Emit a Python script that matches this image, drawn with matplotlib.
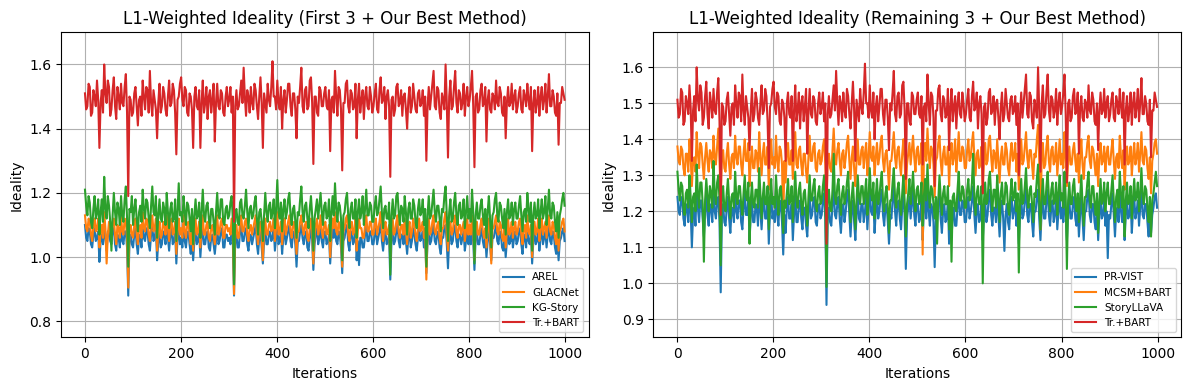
import numpy as np
import matplotlib
matplotlib.use("Agg")
from matplotlib import pyplot as plt

# Values, 400 samples across iterations 0..999
tr_bart = [
    1.51, 1.46, 1.47, 1.54, 1.53, 1.44, 1.45, 1.52, 1.50, 1.47, 1.55, 1.49, 1.34, 1.48, 1.52, 1.45, 1.60, 1.51, 1.48, 1.55,
    1.53, 1.44, 1.46, 1.52, 1.56, 1.47, 1.43, 1.53, 1.50, 1.46, 1.54, 1.48, 1.47, 1.53, 1.57, 1.45, 1.19, 1.50, 1.49, 1.44,
    1.45, 1.51, 1.53, 1.47, 1.41, 1.49, 1.50, 1.44, 1.55, 1.50, 1.46, 1.53, 1.52, 1.45, 1.58, 1.48, 1.44, 1.52, 1.49, 1.46,
    1.37, 1.48, 1.54, 1.45, 1.47, 1.53, 1.51, 1.46, 1.44, 1.50, 1.55, 1.47, 1.48, 1.54, 1.52, 1.45, 1.32, 1.49, 1.50, 1.54,
    1.56, 1.49, 1.47, 1.53, 1.52, 1.45, 1.44, 1.51, 1.50, 1.46, 1.34, 1.50, 1.53, 1.47, 1.46, 1.52, 1.34, 1.48, 1.55, 1.45,
    1.48, 1.53, 1.43, 1.50, 1.52, 1.45, 1.49, 1.54, 1.36, 1.48, 1.54, 1.47, 1.46, 1.52, 1.51, 1.45, 1.44, 1.50, 1.53, 1.47,
    1.49, 1.53, 1.45, 1.50, 1.11, 1.47, 1.52, 1.46, 1.47, 1.51, 1.55, 1.48, 1.59, 1.50, 1.44, 1.52, 1.50, 1.45, 1.53, 1.48,
    1.46, 1.54, 1.52, 1.47, 1.43, 1.50, 1.56, 1.48, 1.34, 1.51, 1.48, 1.45, 1.54, 1.49, 1.47, 1.53, 1.61, 1.50, 1.50, 1.46,
    1.55, 1.48, 1.46, 1.53, 1.40, 1.49, 1.52, 1.45, 1.49, 1.54, 1.54, 1.47, 1.44, 1.51, 1.51, 1.46, 1.37, 1.50, 1.48, 1.53,
    1.59, 1.47, 1.45, 1.52, 1.53, 1.46, 1.47, 1.55, 1.56, 1.48, 1.29, 1.50, 1.50, 1.45, 1.44, 1.53, 1.52, 1.47, 1.47, 1.51,
    1.53, 1.47, 1.46, 1.52, 1.33, 1.49, 1.50, 1.45, 1.58, 1.50, 1.44, 1.53, 1.52, 1.46, 1.27, 1.48, 1.48, 1.54, 1.55, 1.47,
    1.45, 1.52, 1.51, 1.46, 1.47, 1.54, 1.37, 1.49, 1.54, 1.45, 1.49, 1.52, 1.43, 1.50, 1.53, 1.47, 1.46, 1.53, 1.50, 1.45,
    1.47, 1.51, 1.54, 1.46, 1.45, 1.52, 1.56, 1.48, 1.49, 1.53, 1.43, 1.50, 1.52, 1.47, 1.25, 1.49, 1.50, 1.44, 1.46, 1.53,
    1.54, 1.47, 1.48, 1.52, 1.44, 1.50, 1.51, 1.46, 1.40, 1.49, 1.53, 1.45, 1.47, 1.54, 1.50, 1.46, 1.45, 1.51, 1.52, 1.47,
    1.48, 1.52, 1.44, 1.50, 1.30, 1.47, 1.53, 1.46, 1.50, 1.54, 1.58, 1.47, 1.46, 1.53, 1.52, 1.45, 1.43, 1.51, 1.49, 1.46,
    1.60, 1.48, 1.31, 1.50, 1.55, 1.46, 1.47, 1.53, 1.58, 1.48, 1.45, 1.52, 1.51, 1.46, 1.48, 1.54, 1.44, 1.50, 1.53, 1.47,
    1.49, 1.53, 1.58, 1.47, 1.28, 1.50, 1.51, 1.45, 1.46, 1.52, 1.54, 1.47, 1.48, 1.53, 1.36, 1.49, 1.52, 1.46, 1.45, 1.51,
    1.50, 1.46, 1.55, 1.48, 1.47, 1.53, 1.51, 1.45, 1.44, 1.50, 1.37, 1.48, 1.53, 1.47, 1.48, 1.54, 1.46, 1.50, 1.52, 1.45,
    1.47, 1.51, 1.53, 1.46, 1.45, 1.52, 1.50, 1.47, 1.54, 1.49, 1.46, 1.53, 1.33, 1.48, 1.52, 1.45, 1.48, 1.53, 1.44, 1.50,
    1.53, 1.46, 1.49, 1.54, 1.45, 1.50, 1.57, 1.47, 1.47, 1.52, 1.50, 1.45, 1.44, 1.51, 1.35, 1.48, 1.48, 1.53, 1.51, 1.49,
]

arel = [
    1.10, 1.06, 1.05, 1.09, 1.08, 1.04, 1.03, 1.07, 1.09, 1.05, 1.06, 1.08, 0.985, 1.05, 1.07, 1.04, 1.10, 1.06, 1.02, 1.08,
    1.08, 1.05, 1.04, 1.09, 1.09, 1.04, 1.02, 1.07, 1.06, 1.03, 1.10, 1.05, 1.04, 1.08, 1.08, 1.03, 0.88, 1.05, 1.07, 1.04,
    1.03, 1.07, 1.09, 1.04, 1.01, 1.06, 1.07, 1.03, 1.10, 1.06, 1.05, 1.09, 1.08, 1.04, 1.02, 1.07, 1.10, 1.05, 1.06, 1.09,
    0.99, 1.05, 1.08, 1.03, 1.04, 1.08, 1.07, 1.04, 1.10, 1.06, 1.02, 1.07, 1.09, 1.04, 1.05, 1.08, 0.98, 1.06, 1.09, 1.04,
    1.06, 1.03, 1.10, 1.05, 1.03, 1.07, 1.08, 1.04, 1.01, 1.06, 0.99, 1.05, 1.09, 1.04, 1.05, 1.08, 1.00, 1.06, 1.10, 1.04,
    1.04, 1.07, 1.08, 1.03, 1.02, 1.06, 1.07, 1.04, 1.01, 1.05, 1.10, 1.04, 1.05, 1.08, 1.09, 1.03, 1.03, 1.07, 1.07, 1.05,
    1.06, 1.04, 1.09, 1.05, 0.88, 1.06, 1.07, 1.03, 1.03, 1.08, 1.10, 1.05, 1.05, 1.08, 1.09, 1.04, 1.02, 1.06, 1.07, 1.04,
    1.06, 1.08, 1.10, 1.04, 1.01, 1.06, 1.08, 1.03, 0.98, 1.05, 1.09, 1.04, 1.04, 1.07, 1.08, 1.05, 1.06, 1.09, 1.02, 1.06,
    1.10, 1.04, 1.05, 1.08, 1.01, 1.06, 1.09, 1.04, 1.06, 1.08, 1.10, 1.05, 1.03, 1.07, 1.08, 1.04, 0.97, 1.05, 1.05, 1.08,
    1.10, 1.06, 1.04, 1.07, 1.08, 1.03, 1.02, 1.06, 1.09, 1.05, 0.96, 1.04, 1.07, 1.09, 1.04, 1.06, 1.10, 1.05, 1.03, 1.07,
    1.08, 1.04, 1.05, 1.07, 0.98, 1.05, 1.09, 1.06, 1.11, 1.05, 1.04, 1.08, 1.07, 1.03, 0.95, 1.05, 1.06, 1.09, 1.10, 1.04,
    1.02, 1.07, 1.08, 1.04, 1.05, 1.09, 0.99, 1.05, 0.975, 1.06, 1.06, 1.03, 1.03, 1.07, 1.10, 1.05, 1.05, 1.08, 1.08, 1.04,
    1.04, 1.07, 1.09, 1.04, 1.06, 1.08, 1.11, 1.05, 1.02, 1.06, 1.08, 1.04, 1.05, 1.07, 0.93, 1.05, 1.09, 1.04, 1.05, 1.08,
    1.10, 1.05, 1.03, 1.07, 1.07, 1.04, 1.09, 1.05, 1.01, 1.06, 1.08, 1.03, 1.05, 1.09, 1.07, 1.04, 1.02, 1.06, 1.09, 1.05,
    1.06, 1.08, 1.03, 1.06, 0.95, 1.05, 1.09, 1.04, 1.05, 1.08, 1.10, 1.05, 1.04, 1.07, 1.08, 1.03, 1.01, 1.06, 1.06, 1.09,
    1.10, 1.04, 0.965, 1.06, 1.08, 1.04, 1.05, 1.09, 1.10, 1.05, 1.03, 1.07, 1.07, 1.04, 1.06, 1.08, 1.02, 1.05, 1.09, 1.04,
    1.07, 1.04, 1.10, 1.05, 0.96, 1.06, 1.08, 1.04, 1.04, 1.07, 1.09, 1.05, 1.03, 1.06, 1.00, 1.05, 1.09, 1.04, 0.99, 1.06,
    1.06, 1.08, 1.10, 1.05, 1.04, 1.08, 1.07, 1.03, 1.02, 1.06, 1.00, 1.05, 1.09, 1.04, 1.05, 1.08, 1.03, 1.06, 1.08, 1.04,
    1.05, 1.08, 1.09, 1.04, 1.01, 1.06, 1.07, 1.03, 1.10, 1.05, 1.04, 1.07, 0.98, 1.05, 1.08, 1.04, 1.05, 1.09, 1.02, 1.06,
    1.09, 1.04, 1.06, 1.08, 1.03, 1.07, 1.10, 1.05, 1.04, 1.08, 1.07, 1.03, 1.01, 1.06, 0.99, 1.05, 1.06, 1.08, 1.09, 1.05,
]

glacnet = [
    1.13, 1.09, 1.08, 1.12, 1.11, 1.07, 1.05, 1.10, 1.12, 1.08, 1.09, 1.12, 1.03, 1.08, 1.10, 1.06, 1.14, 1.09, 0.98, 1.07,
    1.11, 1.08, 1.06, 1.11, 1.12, 1.07, 1.04, 1.10, 1.09, 1.06, 1.13, 1.08, 1.07, 1.12, 1.11, 1.06, 0.905, 1.08, 1.10, 1.07,
    1.06, 1.10, 1.12, 1.07, 1.04, 1.09, 1.10, 1.06, 1.14, 1.09, 1.08, 1.12, 1.11, 1.07, 1.05, 1.10, 1.13, 1.08, 1.09, 1.12,
    1.02, 1.08, 1.11, 1.06, 1.07, 1.11, 1.10, 1.07, 1.13, 1.09, 1.05, 1.10, 1.12, 1.07, 1.08, 1.11, 1.01, 1.09, 1.12, 1.07,
    1.09, 1.06, 1.13, 1.08, 1.06, 1.10, 1.11, 1.07, 1.04, 1.09, 1.02, 1.08, 1.12, 1.07, 1.08, 1.11, 1.03, 1.09, 1.13, 1.07,
    1.07, 1.10, 1.11, 1.06, 1.05, 1.09, 1.10, 1.07, 1.04, 1.08, 1.13, 1.07, 1.08, 1.11, 1.12, 1.06, 1.06, 1.10, 1.10, 1.08,
    1.09, 1.07, 1.12, 1.08, 0.885, 1.09, 1.10, 1.06, 1.06, 1.11, 1.13, 1.08, 1.08, 1.11, 1.12, 1.07, 1.05, 1.09, 1.10, 1.07,
    1.09, 1.11, 1.13, 1.07, 1.04, 1.09, 1.11, 1.06, 0.99, 1.08, 1.12, 1.07, 1.07, 1.10, 1.11, 1.08, 1.09, 1.12, 1.05, 1.09,
    1.14, 1.07, 1.08, 1.11, 1.04, 1.09, 1.12, 1.07, 1.09, 1.11, 1.13, 1.08, 1.06, 1.10, 1.11, 1.07, 1.01, 1.08, 1.08, 1.11,
    1.13, 1.09, 1.07, 1.10, 1.11, 1.06, 1.05, 1.09, 1.12, 1.08, 0.98, 1.07, 1.10, 1.12, 1.07, 1.09, 1.13, 1.08, 1.06, 1.10,
    1.11, 1.07, 1.08, 1.10, 1.00, 1.08, 1.12, 1.09, 1.14, 1.08, 1.07, 1.11, 1.10, 1.06, 0.97, 1.08, 1.09, 1.12, 1.13, 1.07,
    1.05, 1.10, 1.11, 1.07, 1.08, 1.12, 1.02, 1.08, 1.12, 1.09, 1.09, 1.06, 1.06, 1.10, 1.13, 1.08, 1.08, 1.11, 1.11, 1.07,
    1.07, 1.10, 1.12, 1.07, 1.09, 1.11, 1.14, 1.08, 1.05, 1.09, 1.11, 1.07, 1.08, 1.10, 0.99, 1.08, 1.12, 1.07, 1.08, 1.11,
    1.13, 1.08, 1.06, 1.10, 1.10, 1.07, 1.12, 1.08, 1.04, 1.09, 1.11, 1.06, 1.08, 1.12, 1.10, 1.07, 1.05, 1.09, 1.12, 1.08,
    1.09, 1.11, 1.06, 1.09, 0.93, 1.08, 1.12, 1.07, 1.08, 1.11, 1.13, 1.08, 1.07, 1.10, 1.11, 1.06, 1.04, 1.09, 1.09, 1.12,
    1.14, 1.07, 1.02, 1.09, 1.11, 1.07, 1.08, 1.12, 1.13, 1.08, 1.06, 1.10, 1.10, 1.07, 1.09, 1.11, 1.05, 1.08, 1.12, 1.07,
    1.10, 1.07, 1.13, 1.08, 0.99, 1.09, 1.11, 1.07, 1.07, 1.10, 1.12, 1.08, 1.06, 1.09, 1.03, 1.08, 1.12, 1.07, 0.98, 1.09,
    1.09, 1.11, 1.13, 1.08, 1.07, 1.11, 1.10, 1.06, 1.05, 1.09, 1.03, 1.08, 1.12, 1.07, 1.08, 1.11, 1.06, 1.09, 1.11, 1.07,
    1.08, 1.11, 1.12, 1.07, 1.04, 1.09, 1.10, 1.06, 1.13, 1.08, 1.07, 1.10, 1.00, 1.08, 1.11, 1.07, 1.08, 1.12, 1.05, 1.09,
    1.12, 1.07, 1.09, 1.11, 1.06, 1.10, 1.13, 1.08, 1.07, 1.11, 1.10, 1.06, 1.04, 1.09, 1.02, 1.08, 1.09, 1.11, 1.12, 1.08,
]

kg_story = [
    1.21, 1.16, 1.13, 1.19, 1.17, 1.11, 1.09, 1.15, 1.19, 1.12, 1.14, 1.18, 1.07, 1.14, 1.18, 1.11, 1.25, 1.15, 1.12, 1.19,
    1.16, 1.11, 1.02, 1.13, 1.20, 1.14, 1.10, 1.17, 1.15, 1.10, 1.19, 1.13, 1.11, 1.18, 1.22, 1.12, 0.97, 1.15, 1.14, 1.19,
    1.10, 1.15, 1.18, 1.12, 1.08, 1.14, 1.16, 1.11, 1.21, 1.15, 1.12, 1.18, 1.17, 1.12, 1.09, 1.16, 1.22, 1.14, 1.13, 1.19,
    1.06, 1.13, 1.18, 1.12, 1.11, 1.17, 1.15, 1.10, 1.20, 1.14, 1.09, 1.15, 1.17, 1.11, 1.12, 1.18, 1.05, 1.14, 1.23, 1.13,
    1.14, 1.11, 1.19, 1.14, 1.10, 1.17, 1.16, 1.12, 1.08, 1.15, 1.04, 1.13, 1.18, 1.12, 1.13, 1.17, 1.06, 1.14, 1.21, 1.13,
    1.11, 1.16, 1.17, 1.12, 1.09, 1.15, 1.15, 1.11, 1.07, 1.14, 1.20, 1.13, 1.12, 1.18, 1.18, 1.11, 1.10, 1.15, 1.16, 1.12,
    1.13, 1.17, 1.19, 1.12, 0.915, 1.14, 1.15, 1.11, 1.10, 1.17, 1.18, 1.13, 1.12, 1.16, 1.21, 1.14, 1.09, 1.15, 1.16, 1.12,
    1.13, 1.17, 1.19, 1.12, 1.07, 1.14, 1.15, 1.11, 1.05, 1.13, 1.20, 1.14, 1.11, 1.16, 1.17, 1.12, 1.14, 1.18, 1.09, 1.15,
    1.24, 1.14, 1.12, 1.17, 1.08, 1.15, 1.18, 1.12, 1.14, 1.18, 1.20, 1.13, 1.10, 1.15, 1.16, 1.11, 1.06, 1.14, 1.13, 1.18,
    1.22, 1.14, 1.11, 1.16, 1.17, 1.12, 1.09, 1.15, 1.19, 1.13, 1.02, 1.12, 1.15, 1.18, 1.12, 1.16, 1.20, 1.14, 1.10, 1.16,
    1.17, 1.12, 1.13, 1.18, 1.05, 1.14, 1.19, 1.13, 1.23, 1.15, 1.11, 1.17, 1.16, 1.12, 0.99, 1.13, 1.14, 1.18, 1.20, 1.13,
    1.09, 1.15, 1.17, 1.12, 1.12, 1.18, 1.06, 1.14, 1.18, 1.12, 1.14, 1.19, 1.10, 1.15, 1.21, 1.13, 1.13, 1.17, 1.16, 1.11,
    1.11, 1.16, 1.19, 1.13, 1.14, 1.18, 1.22, 1.14, 1.09, 1.15, 1.16, 1.12, 1.12, 1.17, 0.945, 1.13, 1.18, 1.12, 1.13, 1.19,
    1.20, 1.14, 1.10, 1.16, 1.15, 1.11, 1.19, 1.14, 1.07, 1.15, 1.17, 1.12, 1.12, 1.18, 1.16, 1.11, 1.09, 1.15, 1.18, 1.13,
    1.14, 1.18, 1.10, 1.15, 0.97, 1.13, 1.19, 1.12, 1.13, 1.17, 1.21, 1.14, 1.11, 1.16, 1.16, 1.12, 1.08, 1.15, 1.14, 1.19,
    1.22, 1.13, 1.05, 1.14, 1.18, 1.11, 1.12, 1.17, 1.20, 1.13, 1.10, 1.16, 1.17, 1.12, 1.13, 1.18, 1.09, 1.14, 1.19, 1.12,
    1.15, 1.11, 1.21, 1.14, 0.98, 1.13, 1.17, 1.12, 1.12, 1.16, 1.18, 1.13, 1.10, 1.15, 1.06, 1.14, 1.19, 1.12, 1.03, 1.13,
    1.14, 1.18, 1.20, 1.13, 1.11, 1.17, 1.16, 1.12, 1.09, 1.15, 1.07, 1.14, 1.18, 1.12, 1.13, 1.17, 1.10, 1.15, 1.17, 1.12,
    1.12, 1.16, 1.19, 1.13, 1.08, 1.14, 1.15, 1.11, 1.20, 1.15, 1.11, 1.17, 1.02, 1.13, 1.17, 1.12, 1.13, 1.18, 1.09, 1.14,
    1.18, 1.12, 1.14, 1.19, 1.10, 1.15, 1.21, 1.13, 1.12, 1.17, 1.16, 1.11, 1.08, 1.14, 1.06, 1.13, 1.15, 1.18, 1.20, 1.16,
]

pr_vist = [
    1.24, 1.20, 1.19, 1.24, 1.23, 1.18, 1.16, 1.21, 1.22, 1.17, 1.26, 1.20, 1.10, 1.19, 1.21, 1.16, 1.27, 1.21, 1.17, 1.23,
    1.23, 1.18, 1.13, 1.20, 1.25, 1.19, 1.16, 1.22, 1.21, 1.17, 1.26, 1.20, 1.18, 1.23, 1.24, 1.17, 0.975, 1.19, 1.22, 1.17,
    1.16, 1.21, 1.24, 1.18, 1.14, 1.20, 1.21, 1.17, 1.26, 1.20, 1.18, 1.23, 1.23, 1.17, 1.15, 1.21, 1.25, 1.19, 1.19, 1.24,
    1.12, 1.19, 1.23, 1.17, 1.17, 1.22, 1.21, 1.16, 1.27, 1.20, 1.15, 1.21, 1.24, 1.18, 1.18, 1.23, 1.11, 1.20, 1.25, 1.18,
    1.20, 1.17, 1.26, 1.19, 1.16, 1.23, 1.22, 1.17, 1.08, 1.19, 1.14, 1.21, 1.24, 1.18, 1.18, 1.22, 1.12, 1.19, 1.26, 1.17,
    1.17, 1.22, 1.23, 1.18, 1.15, 1.21, 1.21, 1.16, 1.13, 1.20, 1.25, 1.18, 1.19, 1.23, 1.24, 1.17, 1.16, 1.21, 1.22, 1.18,
    1.19, 1.23, 1.25, 1.18, 0.94, 1.19, 1.21, 1.17, 1.16, 1.22, 1.27, 1.19, 1.18, 1.22, 1.24, 1.18, 1.14, 1.20, 1.22, 1.17,
    1.20, 1.24, 1.26, 1.19, 1.13, 1.20, 1.23, 1.17, 1.12, 1.19, 1.25, 1.18, 1.17, 1.22, 1.22, 1.17, 1.20, 1.24, 1.15, 1.21,
    1.27, 1.20, 1.19, 1.23, 1.14, 1.20, 1.24, 1.18, 1.20, 1.24, 1.26, 1.19, 1.16, 1.21, 1.22, 1.17, 1.11, 1.19, 1.18, 1.23,
    1.27, 1.20, 1.16, 1.22, 1.23, 1.18, 1.15, 1.21, 1.25, 1.19, 1.04, 1.18, 1.21, 1.24, 1.18, 1.22, 1.26, 1.19, 1.16, 1.22,
    1.22, 1.17, 1.18, 1.23, 1.12, 1.20, 1.24, 1.18, 1.27, 1.20, 1.16, 1.22, 1.21, 1.17, 1.045, 1.18, 1.19, 1.23, 1.25, 1.18,
    1.14, 1.20, 1.22, 1.17, 1.18, 1.23, 1.11, 1.19, 1.13, 1.18, 1.21, 1.16, 1.16, 1.21, 1.26, 1.19, 1.19, 1.23, 1.22, 1.17,
    1.17, 1.21, 1.24, 1.18, 1.20, 1.23, 1.27, 1.19, 1.14, 1.20, 1.22, 1.17, 1.18, 1.22, 1.12, 1.19, 1.23, 1.17, 1.19, 1.24,
    1.26, 1.19, 1.16, 1.21, 1.21, 1.17, 1.25, 1.19, 1.13, 1.20, 1.23, 1.18, 1.09, 1.19, 1.22, 1.17, 1.15, 1.21, 1.24, 1.18,
    1.20, 1.23, 1.16, 1.21, 1.11, 1.19, 1.24, 1.18, 1.19, 1.23, 1.27, 1.19, 1.17, 1.22, 1.22, 1.17, 1.13, 1.20, 1.20, 1.24,
    1.26, 1.18, 1.12, 1.20, 1.24, 1.18, 1.18, 1.23, 1.26, 1.19, 1.16, 1.21, 1.23, 1.17, 1.19, 1.24, 1.15, 1.20, 1.25, 1.18,
    1.21, 1.17, 1.26, 1.19, 1.12, 1.20, 1.23, 1.18, 1.18, 1.22, 1.24, 1.18, 1.16, 1.21, 1.13, 1.19, 1.25, 1.18, 1.12, 1.20,
    1.20, 1.24, 1.26, 1.19, 1.17, 1.22, 1.22, 1.17, 1.15, 1.21, 1.12, 1.19, 1.24, 1.18, 1.19, 1.23, 1.16, 1.20, 1.07, 1.19,
    1.18, 1.22, 1.25, 1.19, 1.13, 1.20, 1.21, 1.17, 1.26, 1.20, 1.17, 1.22, 1.12, 1.19, 1.23, 1.18, 1.19, 1.23, 1.14, 1.20,
    1.24, 1.18, 1.20, 1.23, 1.16, 1.21, 1.27, 1.19, 1.18, 1.22, 1.22, 1.17, 1.13, 1.20, 1.14, 1.19, 1.21, 1.24, 1.25, 1.21,
]

mcsm_bart = [
    1.38, 1.34, 1.33, 1.38, 1.37, 1.32, 1.30, 1.36, 1.36, 1.31, 1.40, 1.35, 1.27, 1.34, 1.35, 1.31, 1.42, 1.36, 1.32, 1.39,
    1.38, 1.33, 1.29, 1.35, 1.39, 1.34, 1.31, 1.37, 1.36, 1.32, 1.41, 1.35, 1.33, 1.38, 1.43, 1.34, 1.24, 1.35, 1.37, 1.32,
    1.31, 1.36, 1.39, 1.33, 1.29, 1.35, 1.36, 1.32, 1.41, 1.35, 1.33, 1.38, 1.38, 1.33, 1.30, 1.36, 1.40, 1.34, 1.34, 1.39,
    1.27, 1.34, 1.38, 1.32, 1.32, 1.37, 1.36, 1.31, 1.42, 1.35, 1.30, 1.36, 1.39, 1.33, 1.33, 1.38, 1.26, 1.35, 1.40, 1.33,
    1.35, 1.32, 1.41, 1.34, 1.31, 1.38, 1.37, 1.33, 1.16, 1.34, 1.28, 1.36, 1.39, 1.33, 1.33, 1.37, 1.29, 1.35, 1.42, 1.33,
    1.32, 1.37, 1.38, 1.33, 1.30, 1.36, 1.36, 1.31, 1.28, 1.35, 1.41, 1.34, 1.34, 1.38, 1.39, 1.32, 1.31, 1.36, 1.37, 1.33,
    1.34, 1.38, 1.40, 1.33, 1.22, 1.34, 1.36, 1.32, 1.31, 1.37, 1.43, 1.35, 1.33, 1.37, 1.39, 1.34, 1.30, 1.36, 1.37, 1.32,
    1.35, 1.39, 1.41, 1.34, 1.29, 1.35, 1.38, 1.32, 1.27, 1.34, 1.40, 1.33, 1.33, 1.37, 1.38, 1.32, 1.36, 1.39, 1.30, 1.35,
    1.42, 1.35, 1.34, 1.38, 1.30, 1.35, 1.39, 1.33, 1.35, 1.39, 1.41, 1.34, 1.31, 1.36, 1.37, 1.32, 1.26, 1.34, 1.34, 1.38,
    1.42, 1.35, 1.32, 1.37, 1.38, 1.33, 1.30, 1.36, 1.40, 1.34, 1.25, 1.33, 1.36, 1.39, 1.33, 1.37, 1.41, 1.35, 1.31, 1.37,
    1.38, 1.33, 1.34, 1.39, 1.08, 1.35, 1.39, 1.34, 1.43, 1.36, 1.32, 1.38, 1.37, 1.33, 1.24, 1.34, 1.35, 1.39, 1.41, 1.34,
    1.30, 1.36, 1.38, 1.33, 1.33, 1.38, 1.27, 1.35, 1.39, 1.33, 1.35, 1.40, 1.31, 1.36, 1.42, 1.34, 1.34, 1.38, 1.37, 1.32,
    1.32, 1.37, 1.40, 1.34, 1.35, 1.39, 1.42, 1.35, 1.30, 1.36, 1.37, 1.32, 1.33, 1.38, 1.25, 1.34, 1.39, 1.33, 1.34, 1.40,
    1.41, 1.35, 1.31, 1.37, 1.36, 1.32, 1.40, 1.34, 1.28, 1.35, 1.38, 1.33, 1.33, 1.39, 1.37, 1.32, 1.30, 1.36, 1.39, 1.34,
    1.35, 1.39, 1.31, 1.36, 1.26, 1.34, 1.40, 1.33, 1.34, 1.38, 1.42, 1.35, 1.32, 1.37, 1.37, 1.33, 1.29, 1.36, 1.35, 1.40,
    1.44, 1.34, 1.15, 1.35, 1.39, 1.32, 1.33, 1.38, 1.41, 1.34, 1.31, 1.37, 1.38, 1.33, 1.34, 1.39, 1.30, 1.35, 1.40, 1.33,
    1.36, 1.32, 1.42, 1.35, 1.27, 1.34, 1.38, 1.33, 1.33, 1.37, 1.39, 1.34, 1.31, 1.36, 1.28, 1.35, 1.40, 1.33, 1.29, 1.35,
    1.35, 1.39, 1.41, 1.34, 1.32, 1.38, 1.37, 1.33, 1.30, 1.36, 1.27, 1.35, 1.39, 1.33, 1.34, 1.38, 1.31, 1.36, 1.38, 1.33,
    1.33, 1.37, 1.40, 1.34, 1.29, 1.35, 1.36, 1.32, 1.41, 1.35, 1.32, 1.37, 1.26, 1.34, 1.38, 1.33, 1.34, 1.38, 1.30, 1.35,
    1.39, 1.33, 1.35, 1.39, 1.31, 1.36, 1.42, 1.34, 1.33, 1.38, 1.37, 1.32, 1.29, 1.35, 1.25, 1.34, 1.36, 1.39, 1.40, 1.36,
]

story_llava = [
    1.31, 1.26, 1.23, 1.28, 1.27, 1.21, 1.19, 1.25, 1.26, 1.21, 1.30, 1.24, 1.17, 1.24, 1.25, 1.20, 1.33, 1.25, 1.21, 1.28,
    1.28, 1.22, 1.06, 1.23, 1.29, 1.24, 1.20, 1.27, 1.25, 1.21, 1.34, 1.25, 1.22, 1.28, 1.30, 1.23, 1.05, 1.24, 1.27, 1.21,
    1.20, 1.25, 1.29, 1.23, 1.18, 1.24, 1.25, 1.21, 1.31, 1.24, 1.22, 1.27, 1.27, 1.22, 1.19, 1.25, 1.30, 1.24, 1.23, 1.28,
    1.11, 1.23, 1.28, 1.22, 1.21, 1.26, 1.26, 1.21, 1.32, 1.25, 1.18, 1.24, 1.28, 1.22, 1.22, 1.27, 1.15, 1.24, 1.29, 1.22,
    1.24, 1.21, 1.30, 1.24, 1.19, 1.26, 1.27, 1.22, 1.14, 1.23, 1.21, 1.25, 1.29, 1.22, 1.23, 1.27, 1.17, 1.24, 1.31, 1.23,
    1.21, 1.26, 1.28, 1.22, 1.19, 1.25, 1.26, 1.21, 1.16, 1.24, 1.30, 1.23, 1.23, 1.27, 1.29, 1.22, 1.20, 1.25, 1.27, 1.22,
    1.23, 1.27, 1.30, 1.22, 0.99, 1.23, 1.26, 1.21, 1.20, 1.26, 1.36, 1.24, 1.22, 1.27, 1.29, 1.23, 1.19, 1.25, 1.27, 1.22,
    1.24, 1.28, 1.31, 1.23, 1.17, 1.24, 1.28, 1.22, 1.15, 1.23, 1.30, 1.24, 1.22, 1.27, 1.27, 1.22, 1.25, 1.29, 1.19, 1.24,
    1.32, 1.25, 1.23, 1.28, 1.18, 1.24, 1.29, 1.22, 1.24, 1.28, 1.31, 1.23, 1.20, 1.25, 1.27, 1.21, 1.14, 1.23, 1.23, 1.28,
    1.32, 1.24, 1.21, 1.26, 1.28, 1.22, 1.19, 1.25, 1.30, 1.23, 1.13, 1.22, 1.25, 1.29, 1.22, 1.26, 1.31, 1.24, 1.20, 1.26,
    1.27, 1.22, 1.23, 1.28, 1.16, 1.24, 1.29, 1.23, 1.33, 1.25, 1.21, 1.27, 1.26, 1.22, 1.18, 1.24, 1.11, 1.23, 1.30, 1.24,
    1.19, 1.25, 1.27, 1.22, 1.22, 1.27, 1.15, 1.23, 1.06, 1.24, 1.25, 1.21, 1.20, 1.26, 1.31, 1.23, 1.23, 1.27, 1.26, 1.21,
    1.21, 1.26, 1.29, 1.23, 1.24, 1.28, 1.36, 1.24, 1.19, 1.25, 1.27, 1.22, 1.22, 1.27, 1.00, 1.23, 1.28, 1.22, 1.23, 1.29,
    1.31, 1.24, 1.20, 1.26, 1.26, 1.21, 1.30, 1.24, 1.17, 1.25, 1.28, 1.22, 1.22, 1.28, 1.27, 1.21, 1.19, 1.25, 1.29, 1.23,
    1.24, 1.28, 1.20, 1.25, 1.03, 1.23, 1.29, 1.22, 1.23, 1.27, 1.32, 1.24, 1.21, 1.26, 1.27, 1.22, 1.17, 1.25, 1.24, 1.29,
    1.33, 1.23, 1.15, 1.24, 1.29, 1.22, 1.22, 1.27, 1.31, 1.24, 1.20, 1.26, 1.28, 1.22, 1.23, 1.28, 1.19, 1.25, 1.30, 1.23,
    1.25, 1.21, 1.31, 1.24, 1.04, 1.23, 1.28, 1.22, 1.22, 1.27, 1.29, 1.23, 1.20, 1.25, 1.17, 1.24, 1.30, 1.22, 1.16, 1.24,
    1.24, 1.28, 1.31, 1.23, 1.21, 1.27, 1.27, 1.22, 1.19, 1.25, 1.14, 1.23, 1.29, 1.22, 1.23, 1.28, 1.20, 1.25, 1.28, 1.22,
    1.22, 1.26, 1.30, 1.23, 1.17, 1.24, 1.26, 1.21, 1.31, 1.25, 1.21, 1.27, 1.13, 1.23, 1.28, 1.22, 1.23, 1.27, 1.18, 1.24,
    1.29, 1.23, 1.24, 1.28, 1.20, 1.25, 1.32, 1.24, 1.22, 1.27, 1.26, 1.21, 1.17, 1.24, 1.13, 1.23, 1.25, 1.28, 1.31, 1.27,
]

iterations = np.linspace(0, 999, len(tr_bart))

left_series = [("AREL", arel), ("GLACNet", glacnet), ("KG-Story", kg_story), ("Tr.+BART", tr_bart)]
right_series = [("PR-VIST", pr_vist), ("MCSM+BART", mcsm_bart), ("StoryLLaVA", story_llava), ("Tr.+BART", tr_bart)]

fig, axes = plt.subplots(1, 2, figsize=(11.89, 3.9), dpi=100)
fig.subplots_adjust(left=0.0513, right=0.9933, bottom=0.135, top=0.917, wspace=0.123)

panels = [
    (axes[0], left_series, "L1-Weighted Ideality (First 3 + Our Best Method)", (0.75, 1.7)),
    (axes[1], right_series, "L1-Weighted Ideality (Remaining 3 + Our Best Method)", (0.85, 1.697)),
]
for ax, series, title, ylim in panels:
    for name, vals in series:
        ax.plot(iterations, vals, label=name)
    ax.set_title(title)
    ax.set_xlabel("Iterations")
    ax.set_ylabel("Ideality")
    ax.set_ylim(*ylim)
    ax.grid(True)
    ax.legend(loc="lower right", fontsize=7.5)

plt.savefig("out.png")
